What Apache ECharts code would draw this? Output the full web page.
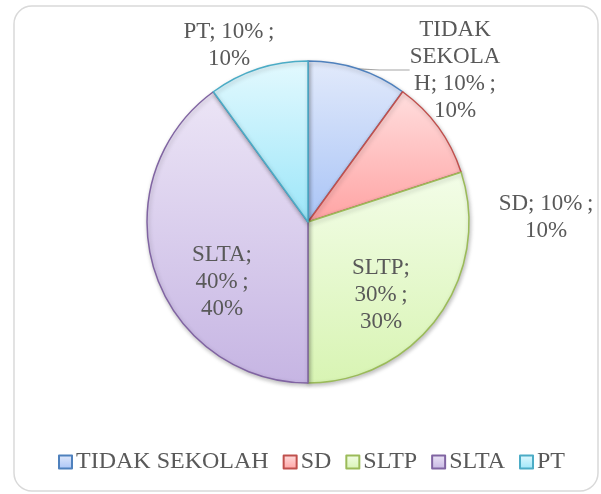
<!DOCTYPE html>
<html>
<head>
<meta charset="utf-8">
<script src="https://cdn.jsdelivr.net/npm/echarts@6/dist/echarts.min.js"></script>
<style>
  html, body { margin: 0; padding: 0; background: #fff; }
  #chart { width: 601px; height: 494px; }
</style>
</head>
<body>
<div id="chart"></div>
<script>
var categories = ['TIDAK SEKOLAH', 'SD', 'SLTP', 'SLTA', 'PT'];
var values = [10, 10, 30, 40, 10];

// styling per slice (gradient top/bottom + border)
var topColors = ['#e2eafb', '#ffdede', '#f3fde8', '#ece5f6', '#e3f9fe'];
var bottomColors = ['#a9c4f6', '#ffa3a3', '#d8f4b3', '#c6b5e3', '#9ce6f9'];
var borderColors = ['#4f81bd', '#c0504d', '#9bbb59', '#8064a2', '#4bacc6'];

// label centres, pixels
var labelPos = [[455, 70], [546, 217], [381, 295], [222, 282], [229, 45]];

function labelText(i, d) {
  var n = categories[i], v = values[i] + '%\u2009;', p = Math.round(d) + '%';
  if (i === 0) return 'TIDAK\nSEKOLA\nH; ' + v + '\n' + p;
  if (i === 2 || i === 3) return n + ';\n' + v + '\n' + p;
  return n + '; ' + v + '\n' + p;
}

var myChart = echarts.init(document.getElementById('chart'));
myChart.setOption({
  animation: false,
  textStyle: { fontFamily: '"Liberation Serif", "Times New Roman", serif' },
  graphic: [{
    type: 'rect',
    shape: { x: 14, y: 6, width: 584, height: 485, r: 18 },
    style: { fill: 'none', stroke: '#d9d9d9', lineWidth: 1.5 },
    z: -1
  }],
  legend: {
    bottom: 15,
    left: 53,
    itemWidth: 13,
    itemHeight: 13,
    itemGap: 14,
    icon: 'rect',
    textStyle: { fontSize: 24, color: '#595959', fontFamily: '"Liberation Serif", serif', padding: [0, 0, 0, -1] },
    data: categories
  },
  series: [{
    type: 'pie',
    center: [308, 222],
    radius: 161,
    startAngle: 90,
    clockwise: true,
    data: categories.map(function (name, i) {
      return {
        name: name,
        value: values[i],
        itemStyle: {
          color: new echarts.graphic.LinearGradient(0, 0, 0, 1, [
            { offset: 0, color: topColors[i] },
            { offset: 1, color: bottomColors[i] }
          ]),
          borderColor: borderColors[i],
          borderWidth: 1.5
        },
        label: { position: (i === 2 || i === 3) ? 'inside' : 'outside' },
        labelLine: { show: i === 0, lineStyle: { color: '#a6a6a6', width: 1.2 } }
      };
    }),
    itemStyle: {
      shadowBlur: 4,
      shadowOffsetX: 1,
      shadowOffsetY: 2,
      shadowColor: 'rgba(0,0,0,0.25)'
    },
    label: {
      show: true,
      fontSize: 23,
      lineHeight: 27,
      color: '#595959',
      align: 'center',
      fontFamily: '"Liberation Serif", serif',
      formatter: function (p) { return labelText(p.dataIndex, p.percent); }
    },
    labelLayout: function (p) {
      var pos = labelPos[p.dataIndex];
      return { x: pos[0], y: pos[1], align: 'center', verticalAlign: 'middle' };
    },
    emphasis: { disabled: true }
  }]
});
</script>
</body>
</html>
